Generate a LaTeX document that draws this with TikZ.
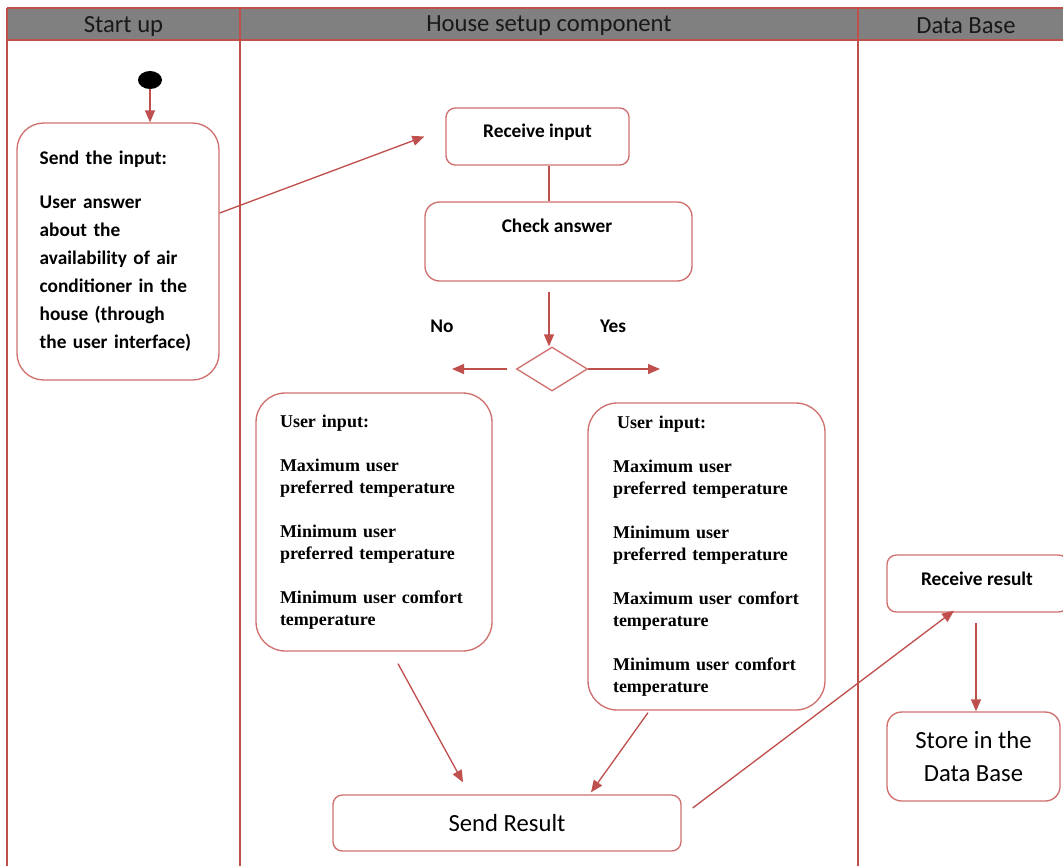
\documentclass[tikz,border=0pt]{standalone}
\usepackage{fontspec}
\setmainfont{Liberation Serif}
\newfontfamily\calfont{Carlito}
\usetikzlibrary{arrows.meta,shapes.geometric,calc}
\definecolor{linered}{RGB}{192,80,77}
\definecolor{boxred}{RGB}{208,112,110}
\definecolor{headgray}{RGB}{128,128,128}
\begin{document}
\begin{tikzpicture}[x=0.75pt,y=-0.75pt,
  box/.style={draw=boxred,line width=1pt,fill=white,inner sep=0pt},
  arr/.style={draw=linered,line width=1pt,-{Triangle[length=9pt,width=7.5pt]}},
  lane/.style={draw=linered,line width=0.8pt},
  head/.style={font=\calfont\fontsize{18.5}{22}\selectfont,text=black!90},
  lbl/.style={font=\calfont\bfseries\fontsize{14.5}{21}\selectfont},
  big/.style={font=\calfont\fontsize{18.5}{25}\selectfont,align=center},
  item/.style={font=\bfseries\fontsize{13.5}{16.5}\selectfont,align=left}]
  \useasboundingbox (0,0) rectangle (1063,865);
  \clip (0,0) rectangle (1063,865);
  % swimlanes
  \fill[headgray] (7,8) rectangle (1080,40);
  \draw[lane] (7,8) -- (1080,8) (7,40) -- (1080,40);
  \draw[lane] (7,8) -- (7,870) (240,8) -- (240,870) (858,8) -- (858,870);
  \node[head] (H1) at (123.5,26) {Start up};
  \node[head] (H2) at (549,26) {House setup component};
  \node[head] (H3) at (966,26) {Data Base};
  % start up
  \node[ellipse,fill=black,minimum width=18pt,minimum height=13.5pt,inner sep=0pt] (St) at (150,80) {};
  \node[box,lbl,rounded corners=20pt,minimum width=151.5pt,minimum height=192.75pt,
        inner xsep=17pt,text width=117.5pt,align=left] (SI) at (118,251.5)
    {Send the input:\\[12pt] User answer\\ about the\\ availability of air\\ conditioner in the\\ house (through\\ the user interface)};
  \draw[arr] (St.south) -- (St.south |- SI.north);
  % house setup
  \node[box,rounded corners=7pt,minimum width=137.25pt,minimum height=42.75pt] (RI) at (537.5,136.5) {};
  \node[lbl] (RIt) at (537.5,132) {Receive input};
  \node[box,rounded corners=11pt,minimum width=200.25pt,minimum height=59.25pt] (CA) at (558.5,241.5) {};
  \node[lbl] (CAt) at (557,226) {Check answer};
  \node[box,diamond,minimum width=53.25pt,minimum height=33pt] (D) at (552,369) {};
  \node[lbl] (No) at (442,326) {No};
  \node[lbl] (Yes) at (613,326) {Yes};
  \coordinate (Nl) at (452,369);
  \coordinate (Yr) at (660,369);
  \node[box,item,rounded corners=22pt,minimum width=177pt,minimum height=193.5pt,
        inner xsep=18pt,text width=141pt] (NB) at (374,522)
    {User input:\\[16.5pt] Maximum user\\ preferred temperature\\[16.5pt]
     Minimum user\\ preferred temperature\\[16.5pt] Minimum user comfort\\ temperature};
  \node[box,item,rounded corners=22pt,minimum width=177.75pt,minimum height=230.25pt,
        inner xsep=18.75pt,text width=140.25pt] (YB) at (706.5,556.5)
    {\hspace*{3pt}User input:\\[16.5pt] Maximum user\\ preferred temperature\\[16.5pt]
     Minimum user\\ preferred temperature\\[16.5pt] Maximum user comfort\\ temperature\\[16.5pt]
     Minimum user comfort\\ temperature};
  \node[box,big,rounded corners=7pt,minimum width=261pt,minimum height=42pt] (SR) at (507,823) {Send Result};
  % data base
  \node[box,rounded corners=7pt,minimum width=135.75pt,minimum height=42.75pt] (RR) at (977.5,583.5) {};
  \node[lbl] (RRt) at (977,579) {Receive result};
  \node[box,big,rounded corners=11pt,minimum width=129.75pt,minimum height=66.75pt] (SD) at (973.5,756.5)
    {Store in the\\ Data Base};
  % connectors
  \coordinate (ri1) at ($(RI.south)+(11.5,0)$);
  \coordinate (ca1) at ($(CA.south)+(-9.5,10)$);
  \coordinate (rr1) at ($(RR.south)+(-1.5,10)$);
  \draw[arr] ($(SI.east)+(0,-38.5)$) -- ([xshift=-15.75pt]RI.west);
  \draw[lane,line width=1pt] (ri1) -- (ri1 |- CA.north);
  \draw[arr] (ca1) -- (ca1 |- D.north);
  \draw[arr] ([xshift=-6.75pt]D.west) -- (Nl);
  \draw[arr] (D.east) -- (Yr);
  \draw[arr] ($(NB.south)+(24,12)$) -- ($(SR.north)+(-44,-12)$);
  \draw[arr] ($(YB.south)+(-58.5,2)$) -- ($(SR.north)+(84,-2)$);
  \draw[arr] ($(SR.east)+(11,-15)$) -- ($(RR.south)+(-23.5,-2)$);
  \draw[arr] (rr1) -- (rr1 |- SD.north);
\end{tikzpicture}
\end{document}
